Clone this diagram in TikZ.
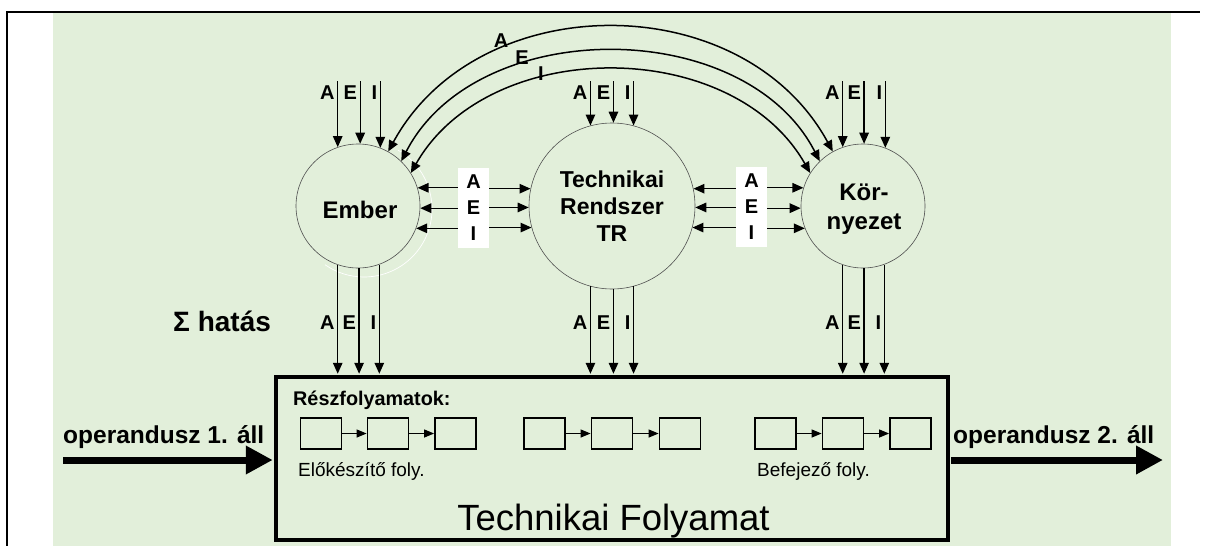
\documentclass[tikz,border=0pt]{standalone}
\usepackage{fontspec}
\setmainfont{Liberation Sans}
\usetikzlibrary{arrows.meta,calc}
\definecolor{bggreen}{RGB}{226,239,218}
\definecolor{circgray}{RGB}{80,80,80}
\begin{document}
\begin{tikzpicture}[x=1pt,y=-1pt,
  circ/.style={circle, draw=circgray, line width=0.6pt, inner sep=0pt, minimum size=#1},
  tipA/.tip={Triangle[length=11pt,width=9.5pt]},
  ar/.style={line width=1.3pt, -tipA},
  biar/.style={line width=1.5pt, tipA-tipA},
  sar/.style={line width=1.2pt, -{Triangle[length=10pt,width=8pt]}},
  bigar/.style={line width=7pt, -{Triangle[length=27pt,width=27pt]}},
  lbl/.style={font=\bfseries\fontsize{20}{24}\selectfont, inner sep=0pt},
  ctxt/.style={font=\bfseries\fontsize{24}{29}\selectfont, inner sep=0pt, align=center},
  wbox/.style={fill=white, inner sep=0pt, minimum width=31pt, minimum height=80pt, align=center,
               font=\bfseries\fontsize{20}{26}\selectfont},
  sbox/.style={draw, line width=1.8pt, minimum width=41pt, minimum height=31pt, inner sep=0pt},
  optxt/.style={font=\bfseries\fontsize{24.5}{29}\selectfont, inner sep=0pt},
  small/.style={font=\fontsize{19}{23}\selectfont, inner sep=0pt}
]
\useasboundingbox (0,0) rectangle (1205,546);
% background and frame
\fill[bggreen] (53,13) rectangle (1171,546);
\draw[line width=1.2pt] (7,546) -- (7,12) -- (1200,12);

% helper levels
\coordinate (topline) at (0,81);
\coordinate (toplab) at (0,99);
\coordinate (botlab) at (0,329);

% circles
\draw[white, line width=0.7pt] (364,209) ++(-60:68) arc[start angle=-60, end angle=125, radius=68];
\node[circ=124pt] (ember) at (358,206) {};
\node[circ=166pt, font=\bfseries\fontsize{23}{27}\selectfont, align=center] (tr) at (612,206) {Technikai\\Rendszer\\TR};
\node[circ=124pt] (korny) at (863,206) {};
\node[ctxt, anchor=base] (embertxt) at (360,218.3) {Ember};
\node[ctxt] (korntxt) at (864,209) {Kör-\\nyezet};

% main box
\node[draw, line width=3.3pt, minimum width=672pt, minimum height=163pt, inner sep=0pt] (main) at (612,458.5) {};

% top inputs
\foreach \a/\t in {109/A,88/E,69/I}{
  \draw[ar] (ember.\a |- topline) -- (ember.\a);
  \node[lbl, anchor=base east] (ember-in-\t) at ($(ember.\a |- toplab)+(-3,0)$) {\t};
}
\foreach \a/\t in {105/A,89/E,75/I}{
  \draw[ar] (tr.\a |- topline) -- (tr.\a);
  \node[lbl, anchor=base east] (tr-in-\t) at ($(tr.\a |- toplab)+(-3,0)$) {\t};
}
\foreach \a/\t in {109/A,89/E,69/I}{
  \draw[ar] (korny.\a |- topline) -- (korny.\a);
  \node[lbl, anchor=base east] (korny-in-\t) at ($(korny.\a |- toplab)+(-3,0)$) {\t};
}

% bottom outputs
\foreach \a/\t in {251/A,271/E,290/I}{
  \draw[ar, shorten >=1.6pt] (ember.\a) -- (ember.\a |- main.north);
  \node[lbl, anchor=base east] (ember-out-\t) at ($(ember.\a |- botlab)+(-3,0)$) {\t};
}
\foreach \a/\t in {255/A,271/E,285/I}{
  \draw[ar, shorten >=1.6pt] (tr.\a) -- (tr.\a |- main.north);
  \node[lbl, anchor=base east] (tr-out-\t) at ($(tr.\a |- botlab)+(-3,0)$) {\t};
}
\foreach \a/\t in {251/A,271/E,290/I}{
  \draw[ar, shorten >=1.6pt] (korny.\a) -- (korny.\a |- main.north);
  \node[lbl, anchor=base east] (korny-out-\t) at ($(korny.\a |- botlab)+(-3,0)$) {\t};
}

% side exchanges
\node[wbox] (aei1) at (473.5,208) {A\\E\\I};
\node[wbox] (aei2) at (751.5,207) {A\\E\\I};
\foreach \ea/\ta in {17/168, 358/181, 339/195}{
  \draw[ar] (aei1.west |- ember.\ea) -- (ember.\ea);
  \draw[ar] (aei1.east |- tr.\ta) -- (tr.\ta);
}
\foreach \ta/\ka in {12/163, 359/182, 345/201}{
  \draw[ar] (aei2.west |- tr.\ta) -- (tr.\ta);
  \draw[ar] (aei2.east |- korny.\ka) -- (korny.\ka);
}

% long arcs
\draw[biar] (ember.61) .. controls +(90,-165) and +(-90,-165) .. (korny.119);
\draw[biar] (ember.46) .. controls +(75,-146) and +(-75,-146) .. (korny.134);
\draw[biar] (ember.32) .. controls +(78,-137) and +(-78,-137) .. (korny.148);
\node[lbl, anchor=base] (arcA) at (501,47) {A};
\node[lbl, anchor=base] (arcE) at (522,64) {E};
\node[lbl, anchor=base] (arcI) at (541,80.5) {I};

% sum label
\node[font=\bfseries\fontsize{28}{33}\selectfont, inner sep=0pt, anchor=base west] (sum) at (173,331.5) {Σ hatás};

% inside main box
\node[font=\bfseries\fontsize{19.8}{24}\selectfont, inner sep=0pt, anchor=base west] (resz) at (293,405) {Részfolyamatok:};
\node[sbox] (b1) at (321,433.5) {};
\node[sbox] (b2) at (388,433.5) {};
\node[sbox] (b3) at (455.5,433.5) {};
\node[sbox] (b4) at (544.5,433.5) {};
\node[sbox] (b5) at (612,433.5) {};
\node[sbox] (b6) at (680,433.5) {};
\node[sbox] (b7) at (775.5,433.5) {};
\node[sbox] (b8) at (843,433.5) {};
\node[sbox] (b9) at (910.5,433.5) {};
\draw[sar] (b1) -- (b2);
\draw[sar] (b2) -- (b3);
\draw[sar] (b4) -- (b5);
\draw[sar] (b5) -- (b6);
\draw[sar] (b7) -- (b8);
\draw[sar] (b8) -- (b9);
\node[small, anchor=base west] (elo) at (298,476.5) {Előkészítő foly.};
\node[small, anchor=base west] (bef) at (757,476.5) {Befejező foly.};
\node[font=\fontsize{36.5}{44}\selectfont, inner sep=0pt, anchor=base] (tf) at (613.5,530) {Technikai Folyamat};

% operand arrows
\coordinate (inL) at (63,460);
\coordinate (outR) at (1163,460);
\draw[bigar, shorten >=1.6pt] (inL) -- (main.west |- inL);
\draw[bigar] ($(main.east |- outR)+(1.6,0)$) -- (outR);
\node[optxt, anchor=base west] (op1) at (63,443) {operandusz 1. áll};
\node[optxt, anchor=base west] (op2) at (953,443) {operandusz 2. áll};
\end{tikzpicture}
\end{document}
